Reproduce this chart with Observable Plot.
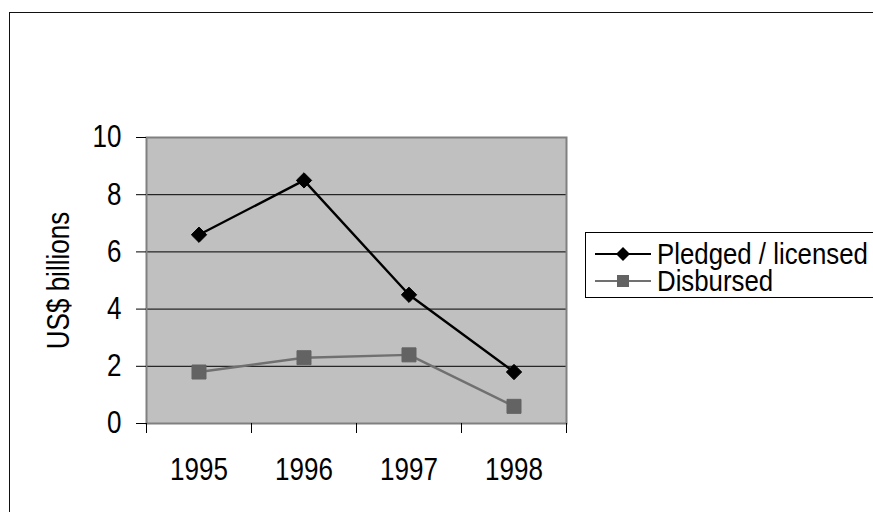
<!DOCTYPE html>
<html><head><meta charset="utf-8">
<script src="https://cdn.jsdelivr.net/npm/d3@7"></script>
<script src="https://cdn.jsdelivr.net/npm/@observablehq/plot@0.6"></script>
<style>
body{margin:0;background:#fff;}
#wrap{position:relative;width:873px;height:512px;overflow:hidden;background:#fff;
  font-family:"Liberation Sans",Arial,sans-serif;}
#border{position:absolute;left:9px;top:12px;width:900px;height:600px;border-left:1.5px solid #111;border-top:1.5px solid #111;box-sizing:border-box;}
#chart{position:absolute;left:0;top:0;}
#legend{position:absolute;left:585px;top:232px;width:320px;height:66px;border:1px solid #000;background:#fff;box-sizing:border-box;}
.row{position:absolute;left:0;height:26px;width:300px;}
.row svg{position:absolute;left:9px;top:0;}
.row span{position:absolute;left:71px;top:1px;font-size:30px;line-height:24px;color:#000;white-space:nowrap;
  transform:scaleX(0.86);transform-origin:0 50%;}
</style>
</head><body>
<div id="wrap"><div id="border"></div><div id="chart"></div><div id="legend"></div></div>
<script>
const years = [1995, 1996, 1997, 1998];
const pledged = [6.6, 8.5, 4.5, 1.8];
const disbursed = [1.8, 2.3, 2.4, 0.6];
const seriesNames = ["Pledged / licensed", "Disbursed"];
const yTicks = [0, 2, 4, 6, 8, 10];

const font = '"Liberation Sans",Arial,sans-serif';
const squeeze = 0.84;
const bounds = years.map(y => y - 0.5).concat([years[years.length - 1] + 0.5]);
const pData = years.map((y, i) => ({year: y, value: pledged[i]}));
const dData = years.map((y, i) => ({year: y, value: disbursed[i]}));
const gridVals = yTicks.filter(d => d > yTicks[0] && d < yTicks[yTicks.length - 1]);

const chart = Plot.plot({
  width: 873, height: 512,
  marginLeft: 146, marginRight: 307, marginTop: 137, marginBottom: 89,
  x: {domain: [bounds[0], bounds[bounds.length - 1]]},
  y: {domain: [0, 10]},
  style: {fontFamily: font, fontSize: "31px", color: "#000", background: "transparent", overflow: "visible"},
  marks: [
    Plot.frame({fill: "#c0c0c0", stroke: null}),
    Plot.ruleY(gridVals, {stroke: "#000", strokeWidth: 1}),
    Plot.frame({stroke: "#808080", strokeWidth: 2}),
    Plot.axisY({ticks: yTicks, tickSize: 10, tickPadding: 15, fontSize: 31,
      label: "US$ billions", labelAnchor: "center", labelArrow: "none", labelOffset: 100}),
    Plot.axisX({ticks: bounds, tickSize: 10, tickFormat: () => "", label: null}),
    Plot.axisX({ticks: years, tickSize: 0, tickPadding: 34, tickFormat: d => String(d), label: null, fontSize: 31}),
    Plot.line(dData, {x: "year", y: "value", stroke: "#707070", strokeWidth: 2.4}),
    Plot.dot(dData, {x: "year", y: "value", symbol: "square", r: 7.9, fill: "#636363", stroke: "#636363", strokeWidth: 1}),
    Plot.line(pData, {x: "year", y: "value", stroke: "#000", strokeWidth: 2.4}),
    Plot.dot(pData, {x: "year", y: "value", symbol: "diamond2", r: 6.9, fill: "#000", stroke: "#000", strokeWidth: 1})
  ]
});
// narrow the text horizontally (condensed look of the original)
chart.querySelectorAll("text").forEach(t => {
  const tr = t.getAttribute("transform") || "";
  t.setAttribute("transform", tr + ` scale(${squeeze},1)`);
});
document.getElementById("chart").appendChild(chart);

// legend
const legend = document.getElementById("legend");
const sw = [
  {name: seriesNames[0], color: "#000", line: "#000", shape: "diamond"},
  {name: seriesNames[1], color: "#636363", line: "#707070", shape: "square"}
];
sw.forEach((s, i) => {
  const row = document.createElement("div");
  row.className = "row";
  row.style.top = (8 + i * 27) + "px";
  const shape = s.shape === "diamond"
    ? `<path d="M28,6 L35,13 L28,20 L21,13 Z" fill="${s.color}"/>`
    : `<rect x="22" y="7" width="12" height="12" fill="${s.color}"/>`;
  row.innerHTML = `<svg width="57" height="26"><line x1="0" x2="56" y1="13" y2="13" stroke="${s.line}" stroke-width="2"/>${shape}</svg><span>${s.name}</span>`;
  legend.appendChild(row);
});
</script>
</body></html>
